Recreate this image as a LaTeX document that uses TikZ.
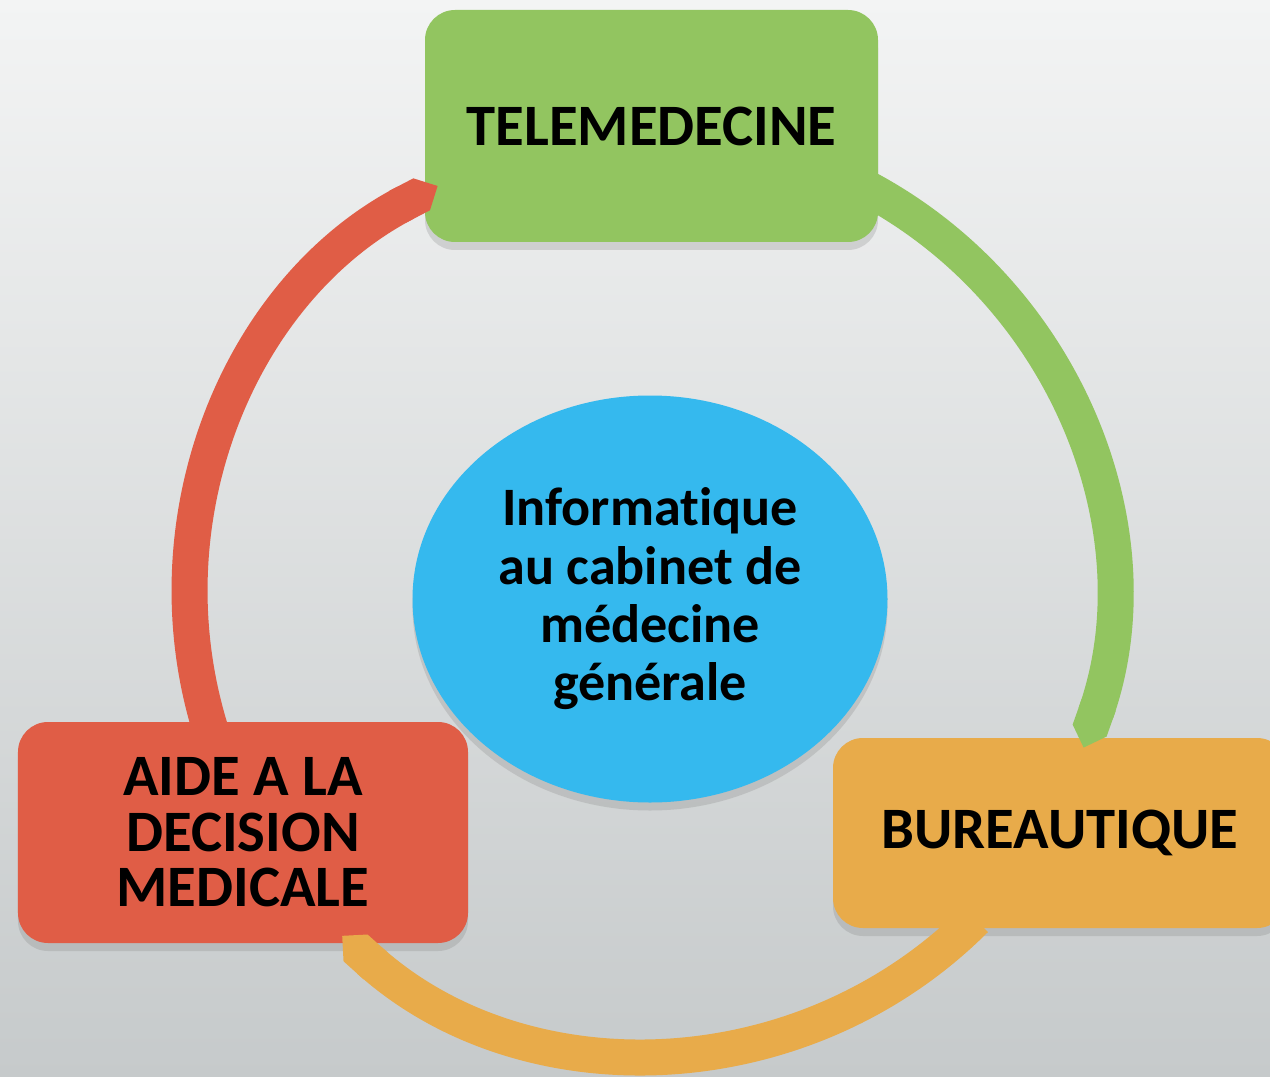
\documentclass[tikz,border=0pt]{standalone}
\usepackage{fontspec}
\setmainfont{Carlito}[Ligatures=NoCommon]
\usetikzlibrary{shapes.geometric,arrows.meta,shadows}
\definecolor{telegreen}{RGB}{146,197,96}
\definecolor{bureauorange}{RGB}{232,171,74}
\definecolor{aidered}{RGB}{224,93,70}
\definecolor{infoblue}{RGB}{53,185,238}
\definecolor{bgtop}{RGB}{243,244,244}
\definecolor{bgbottom}{RGB}{198,202,203}
\begin{document}
\begin{tikzpicture}[
    box/.style={rounded corners=0.3cm,inner sep=0pt,align=center,
        font=\fontsize{16.7}{15.8}\selectfont\bfseries,
        drop shadow={shadow xshift=0pt,shadow yshift=-0.08cm,opacity=0.25}},
    ring/.style={line width=0.36cm,-{Triangle Cap[]}}
]
    \clip (0,0) rectangle (12.7,-10.77);
    \shade[top color=bgtop,bottom color=bgbottom] (0,0) rectangle (12.7,-10.77);
    \coordinate (c) at (6.50,-5.94);
    \node[box,fill=telegreen,minimum width=4.53cm,minimum height=2.32cm] (tele) at (6.515,-1.26) {TELEMEDECINE};
    \node[box,fill=bureauorange,minimum width=4.54cm,minimum height=1.90cm] (bureau) at (10.60,-8.33) {BUREAUTIQUE};
    \node[box,fill=aidered,minimum width=4.50cm,minimum height=2.21cm] (aide) at (2.43,-8.325) {AIDE A LA\\DECISION\\MEDICALE};
    \node[ellipse,fill=infoblue,inner sep=0pt,minimum width=4.75cm,minimum height=4.07cm,align=center,
        font=\fontsize{15.4}{16.6}\selectfont\bfseries,
        drop shadow={shadow xshift=0pt,shadow yshift=-0.08cm,opacity=0.25}] (info) at (6.50,-5.99)
        {Informatique\\au cabinet de\\médecine\\générale};
    \draw[ring,aidered] (c) ++(199:4.60) arc[start angle=199,end angle=117.5,radius=4.60];
    \draw[ring,telegreen] (c) ++(63:4.60) arc[start angle=63,end angle=-19.5,radius=4.60];
    \draw[ring,bureauorange] (c) ++(-45:4.60) arc[start angle=-45,end angle=-132,radius=4.60];
\end{tikzpicture}
\end{document}
